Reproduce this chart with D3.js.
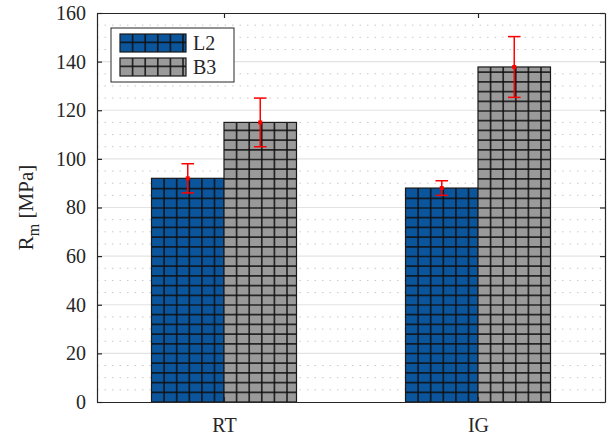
<!DOCTYPE html>
<html>
<head>
<meta charset="utf-8">
<script src="https://cdn.jsdelivr.net/npm/d3@7"></script>
<style>
  body { margin: 0; background: #fff; }
  text { font-family: "Liberation Serif", "Times New Roman", serif; fill: #262626; }
</style>
</head>
<body>
<div id="chart"></div>
<script>
// data
const categories = ["RT", "IG"];
const seriesNames = ["L2", "B3"];
const seriesColors = ["#0a559c", "#9a9a9a"];
const meanL2 = [92, 88];
const meanB3 = [115, 137.8];
const errL2 = [6, 3];
const errB3 = [10, 12.5];
const yTicks = [0, 20, 40, 60, 80, 100, 120, 140, 160];

const width = 609, height = 439;
const margin = { top: 13, right: 4, bottom: 37, left: 97 };
const innerW = width - margin.left - margin.right;
const innerH = height - margin.top - margin.bottom;

const svg = d3.select('#chart')
  .append('svg')
    .attr('width', width)
    .attr('height', height);

const g = svg.append('g')
    .attr('transform', `translate(${margin.left},${margin.top})`);

// scales: categories sit at 1 and 2, axis runs 0.5 .. 2.5
const x = d3.scaleLinear().domain([0.5, 2.5]).range([0, innerW]);
const y = d3.scaleLinear().domain([0, 160]).range([innerH, 0]);
const barW = 0.2854;

// minor dotted grid
g.append('g')
  .selectAll('line')
  .data(d3.range(5, 160, 5).filter(v => v % 20 !== 0))
  .enter()
  .append('line')
    .attr('x1', 0).attr('x2', innerW)
    .attr('y1', d => y(d)).attr('y2', d => y(d))
    .attr('stroke', '#c8c8c8')
    .attr('stroke-width', 1)
    .attr('stroke-dasharray', '1.5,6');

// major grid
g.append('g')
  .selectAll('line')
  .data(yTicks.slice(1, -1))
  .enter()
  .append('line')
    .attr('x1', 0).attr('x2', innerW)
    .attr('y1', d => y(d)).attr('y2', d => y(d))
    .attr('stroke', '#e3e3e3')
    .attr('stroke-width', 1.2);

// bar rows
const bars = [];
categories.forEach((c, i) => {
  bars.push({ cat: i + 1, s: 0, value: meanL2[i], err: errL2[i] });
  bars.push({ cat: i + 1, s: 1, value: meanB3[i], err: errB3[i] });
});

// hatched rectangle helper
function hatchRect(sel, x0, y0, w, h, fill, baseY) {
  sel.append('rect')
    .attr('x', x0).attr('y', y0)
    .attr('width', w).attr('height', h)
    .attr('fill', fill);
  const hg = sel.append('g')
    .attr('stroke', '#111')
    .attr('stroke-opacity', 0.85)
    .attr('stroke-width', 1.7);
  d3.range(x0 + 12.6, x0 + w - 1, 12.6).forEach(xx => {
    hg.append('line').attr('x1', xx).attr('x2', xx).attr('y1', y0).attr('y2', y0 + h);
  });
  d3.range(baseY - 9.7, y0 + 1, -9.7).forEach(yy => {
    hg.append('line').attr('x1', x0).attr('x2', x0 + w).attr('y1', yy).attr('y2', yy);
  });
  sel.append('rect')
    .attr('x', x0).attr('y', y0)
    .attr('width', w).attr('height', h)
    .attr('fill', 'none')
    .attr('stroke', '#1a1a1a')
    .attr('stroke-width', 1.2);
}

bars.forEach(d => {
  const x0 = x(d.cat - barW + d.s * barW);
  const w = x(d.cat + barW) - x(d.cat);
  hatchRect(g.append('g'), x0, y(d.value), w, innerH - y(d.value), seriesColors[d.s], innerH);
});

// error bars
const capW = 6.3;
bars.forEach(d => {
  const cx = x(d.cat - barW / 2 + d.s * barW);
  const eg = g.append('g').attr('stroke', '#ff0000').attr('stroke-width', 1.5);
  eg.append('line').attr('x1', cx).attr('x2', cx)
    .attr('y1', y(d.value + d.err)).attr('y2', y(d.value - d.err));
  eg.append('line').attr('x1', cx - capW).attr('x2', cx + capW)
    .attr('y1', y(d.value + d.err)).attr('y2', y(d.value + d.err));
  eg.append('line').attr('x1', cx - capW).attr('x2', cx + capW)
    .attr('y1', y(d.value - d.err)).attr('y2', y(d.value - d.err));
  g.append('rect')
    .attr('x', cx - 2).attr('y', y(d.value) - 2)
    .attr('width', 4).attr('height', 4)
    .attr('fill', '#ff0000');
});

// axes (ticks pointing inward)
const axisColor = '#262626';
const yAxis = g.append('g')
    .call(d3.axisLeft(y).tickValues(yTicks).tickSizeInner(-5).tickSizeOuter(0).tickPadding(11));
const yAxisR = g.append('g')
    .attr('transform', `translate(${innerW},0)`)
    .call(d3.axisRight(y).tickValues(yTicks).tickSizeInner(-5).tickSizeOuter(0).tickFormat(''));
const xAxis = g.append('g')
    .attr('transform', `translate(0,${innerH})`)
    .call(d3.axisBottom(x).tickValues([1, 2]).tickSizeInner(-5).tickSizeOuter(0)
      .tickPadding(16).tickFormat(d => categories[d - 1]));
const xAxisT = g.append('g')
    .call(d3.axisTop(x).tickValues([1, 2]).tickSizeInner(-5).tickSizeOuter(0).tickFormat(''));

[yAxis, yAxisR, xAxis, xAxisT].forEach(a => {
  a.attr('font-family', '"Liberation Serif", serif');
  a.select('.domain').attr('stroke', axisColor).attr('stroke-width', 1.2);
  a.selectAll('.tick line').attr('stroke', axisColor).attr('stroke-width', 1.2);
  a.selectAll('.tick text')
    .style('font-family', '"Liberation Serif", serif')
    .style('font-size', '20px')
    .attr('fill', axisColor);
});

// y axis label
const yl = svg.append('text')
    .attr('transform', `translate(33,${margin.top + innerH / 2}) rotate(-90)`)
    .attr('text-anchor', 'middle')
    .style('font-family', '"Liberation Serif", serif')
    .style('font-size', '21px');
yl.append('tspan').text('R');
yl.append('tspan').attr('dy', 6).style('font-size', '16px').text('m');
yl.append('tspan').attr('dy', -6).text(' [MPa]');

// legend
const legend = svg.append('g')
    .attr('transform', 'translate(111,28)');
legend.append('rect')
    .attr('width', 123).attr('height', 54)
    .attr('fill', '#fff')
    .attr('stroke', '#262626')
    .attr('stroke-width', 1);

seriesNames.forEach((name, i) => {
  const row = legend.append('g')
    .attr('transform', `translate(9, ${6 + i * 24})`);
  hatchRect(row, 0, 0, 66, 18, seriesColors[i], 18);
  row.append('text')
    .attr('x', 73)
    .attr('y', 16)
    .style('font-family', '"Liberation Serif", serif')
    .style('font-size', '20px')
    .text(name);
});
</script>
</body>
</html>
